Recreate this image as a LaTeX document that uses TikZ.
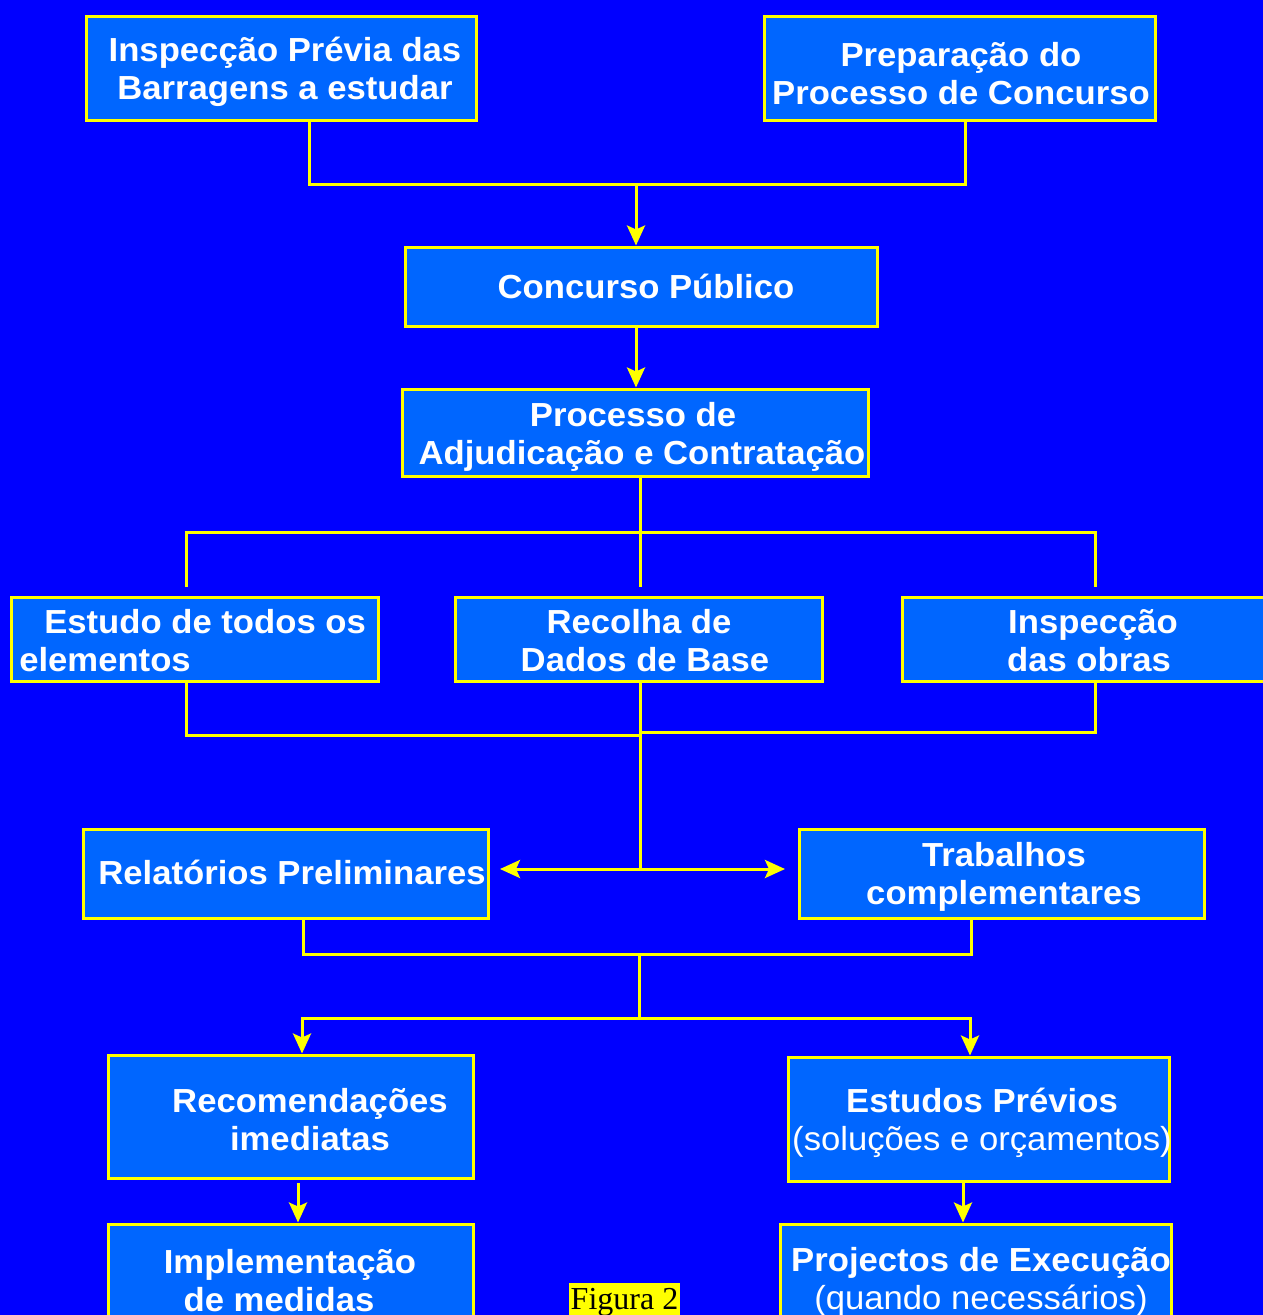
\documentclass[tikz,border=0pt]{standalone}
\usepackage{fontspec}
\setmainfont{Liberation Sans}[FakeStretch=1.04]
\newfontfamily\timesfont{Liberation Serif}
\usetikzlibrary{arrows.meta}
\definecolor{bgblue}{RGB}{0,0,255}
\definecolor{boxblue}{RGB}{0,102,255}
\definecolor{lineyellow}{RGB}{255,255,0}
\begin{document}
\begin{tikzpicture}[x=0.75pt,y=-0.75pt,
  box/.style={draw=lineyellow, line width=2.25pt, fill=boxblue, inner sep=0pt},
  lbl/.style={text=white, font=\bfseries\fontsize{25}{28.5}\selectfont, align=center, inner sep=0pt, text height=17.9pt, text depth=0pt},
  conn/.style={draw=lineyellow, line width=2.25pt},
  arr/.style={conn, -{Stealth[length=15pt,width=13.5pt,inset=3pt]}}]
\path[use as bounding box, fill=bgblue] (0,0) rectangle (1263,1315);
\clip (0,0) rectangle (1263,1315);
% boxes
\node[box, minimum width=292.5pt, minimum height=78pt] (b1) at (281,68) {};
\node[box, minimum width=293.25pt, minimum height=78pt] (b2) at (959.5,68) {};
\node[box, minimum width=354pt, minimum height=59.25pt] (b3) at (641,286.5) {};
\node[box, minimum width=349.5pt, minimum height=65.25pt] (b4) at (635,432.5) {};
\node[box, minimum width=275.25pt, minimum height=63pt] (b5) at (194.5,639) {};
\node[box, minimum width=275.25pt, minimum height=63pt] (b6) at (638.5,639) {};
\node[box, minimum width=291pt, minimum height=63pt] (b7) at (1096,639) {};
\node[box, minimum width=303.75pt, minimum height=66.75pt] (b8) at (285.5,873.5) {};
\node[box, minimum width=303.75pt, minimum height=66.75pt] (b9) at (1001.5,873.5) {};
\node[box, minimum width=273.75pt, minimum height=92.25pt] (b10) at (290.5,1116.5) {};
\node[box, minimum width=285.75pt, minimum height=93pt] (b11) at (978.5,1119) {};
\node[box, minimum width=273.75pt, minimum height=94.5pt] (b12) at (290.5,1287) {};
\node[box, minimum width=293.25pt, minimum height=94.5pt] (b13) at (975.5,1287) {};
% texts (y = centre of the last line)
\node[lbl] (t1) at (285,88) {Inspecção Prévia das\\Barragens a estudar};
\node[lbl] (t2) at (961,93) {Preparação do\\Processo de Concurso};
\node[lbl] (t3) at (646,287) {Concurso Público};
\node[lbl] (t4) at (642,453) {Processo de\hspace*{13.5pt}\\Adjudicação e Contratação};
\node[lbl, anchor=west, align=left] (t5) at (19,660) {\hspace*{18.75pt}Estudo de todos os\\elementos};
\node[lbl] (t6) at (645,660) {Recolha de\hspace*{9pt}\\Dados de Base};
\node[lbl] (t7) at (1093,660) {Inspecção\\das obras\hspace*{6pt}};
\node[lbl] (t8) at (292,873) {Relatórios Preliminares};
\node[lbl] (t9) at (1004,893) {Trabalhos\\complementares};
\node[lbl] (t10) at (310,1139) {Recomendações\\imediatas};
\node[lbl] (t11) at (982,1139) {Estudos Prévios\\{\mdseries(soluções e orçamentos)}};
\node[lbl] (t12) at (290,1300) {Implementação\\de medidas\hspace*{16.5pt}};
\node[lbl] (t13) at (981,1298) {Projectos de Execução\\{\mdseries(quando necessários)}};
% coordinates
\coordinate (c1) at (309,184);
\coordinate (c2) at (965,184);
\coordinate (j1) at (636,184);
\coordinate (c3) at (640,532);
\coordinate (c4) at (186,532);
\coordinate (c5) at (1095,532);
\coordinate (e4) at (186,587);
\coordinate (e5) at (1095,587);
\coordinate (e6) at (640,587);
\coordinate (f5) at (186,735);
\coordinate (f6) at (640,735);
\coordinate (f7) at (1095,732);
\coordinate (f8) at (640,732);
\coordinate (c7) at (640,869);
\coordinate (al) at (500,869);
\coordinate (ar) at (785,869);
\coordinate (d1) at (303,954);
\coordinate (d2) at (971,954);
\coordinate (d3) at (639,954);
\coordinate (d4) at (639,1018);
\coordinate (d5) at (302,1018);
\coordinate (d6) at (970,1018);
\coordinate (g1) at (298,1183);
\coordinate (g2) at (963,1182);
% connectors
\draw[conn] (b1.south -| c1) -- (c1) -- (c2) -- (b2.south -| c2);
\draw[arr] (j1) -- (j1 |- b3.north);
\draw[arr] (b3.south -| j1) -- (j1 |- b4.north);
\draw[conn] (b4.south -| c3) -- (c3);
\draw[conn] (e4) -- (c4) -- (c5) -- (e5);
\draw[conn] (c3) -- (e6);
\draw[conn] (b5.south -| f5) -- (f5) -- (f6);
\draw[conn] (b7.south -| f7) -- (f7) -- (f8);
\draw[conn] (b6.south -| c7) -- (c7);
\draw[arr] (c7) -- (al);
\draw[arr] (c7) -- (ar);
\draw[conn] (b8.south -| d1) -- (d1) -- (d2) -- (b9.south -| d2);
\draw[conn] (d3) -- (d4);
\draw[arr] (d4) -- (d5) -- (d5 |- b10.north);
\draw[arr] (d4) -- (d6) -- (d6 |- b11.north);
\draw[arr] (g1) -- (g1 |- b12.north);
\draw[arr] (g2) -- (g2 |- b13.north);
% caption
\node[fill=lineyellow, text=black, font=\timesfont\fontsize{24}{28}\selectfont, inner xsep=1pt, inner ysep=0pt, text height=19.5pt, text depth=6pt, anchor=base] (fig) at (624.5,1309) {Figura 2};
\end{tikzpicture}
\end{document}
